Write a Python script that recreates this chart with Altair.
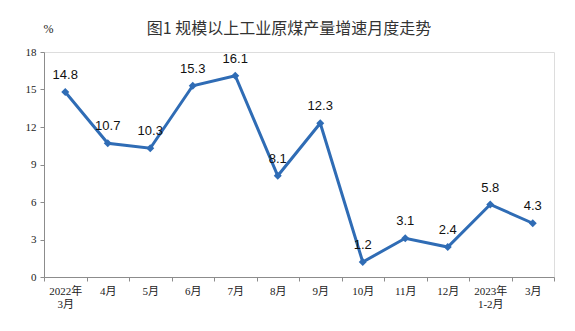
import altair as alt
import pandas as pd

months = ["2022年\n3月", "4月", "5月", "6月", "7月", "8月", "9月",
          "10月", "11月", "12月", "2023年\n1-2月", "3月"]
growth = [14.8, 10.7, 10.3, 15.3, 16.1, 8.1, 12.3, 1.2, 3.1, 2.4, 5.8, 4.3]
y_ticks = [0, 3, 6, 9, 12, 15, 18]

df = pd.DataFrame({"month": months, "growth": growth,
                   "label": [f"{v:.1f}" for v in growth]})

LINE = "#2f6cb5"
AXIS = "#8c8c8c"
SERIF = "Liberation Serif, Noto Sans CJK SC"

x = alt.X("month:N", sort=months,
          scale=alt.Scale(type="band", paddingInner=0, paddingOuter=0),
          axis=alt.Axis(title=None, labelAngle=0, tickBand="extent",
                        labelExpr="split(datum.label, '\\n')",
                        labelLineHeight=13, labelFont=SERIF, labelFontSize=11,
                        labelColor="#222", labelPadding=4,
                        domainColor=AXIS, tickColor=AXIS, tickSize=4,
                        grid=False))
y = alt.Y("growth:Q",
          scale=alt.Scale(domain=[0, 18], nice=False),
          axis=alt.Axis(values=y_ticks, title="%", titleAngle=0,
                        titleX=4, titleY=-24, titleAlign="center",
                        titleBaseline="middle", titleFont=SERIF,
                        titleFontSize=12, titleFontWeight="normal",
                        titleColor="#222",
                        labelFont=SERIF, labelFontSize=11, labelColor="#222",
                        labelPadding=4, domainColor=AXIS, tickColor=AXIS,
                        tickSize=4, grid=False))

base = alt.Chart(df).encode(x=x, y=y)
line = base.mark_line(color=LINE, strokeWidth=3)
pts = base.mark_point(shape="diamond", filled=True, color=LINE, size=65, opacity=1)
labels = base.mark_text(dy=-17, font="Liberation Sans", fontSize=13,
                        color="#111").encode(text="label:N")

chart = (line + pts + labels).properties(
    width=510, height=225,
    autosize=alt.AutoSizeParams(type="none"),
    padding={"left": 44, "top": 52, "right": 21, "bottom": 54},
    title=alt.TitleParams("图1  规模以上工业原煤产量增速月度走势",
                          font="Noto Sans CJK SC", fontSize=16,
                          fontWeight=400, color="#333",
                          anchor="middle", dx=-10, offset=-15),
).configure_view(stroke=None).configure(background="white")

chart.save("out.html", embed_options={"renderer": "svg", "actions": False})
